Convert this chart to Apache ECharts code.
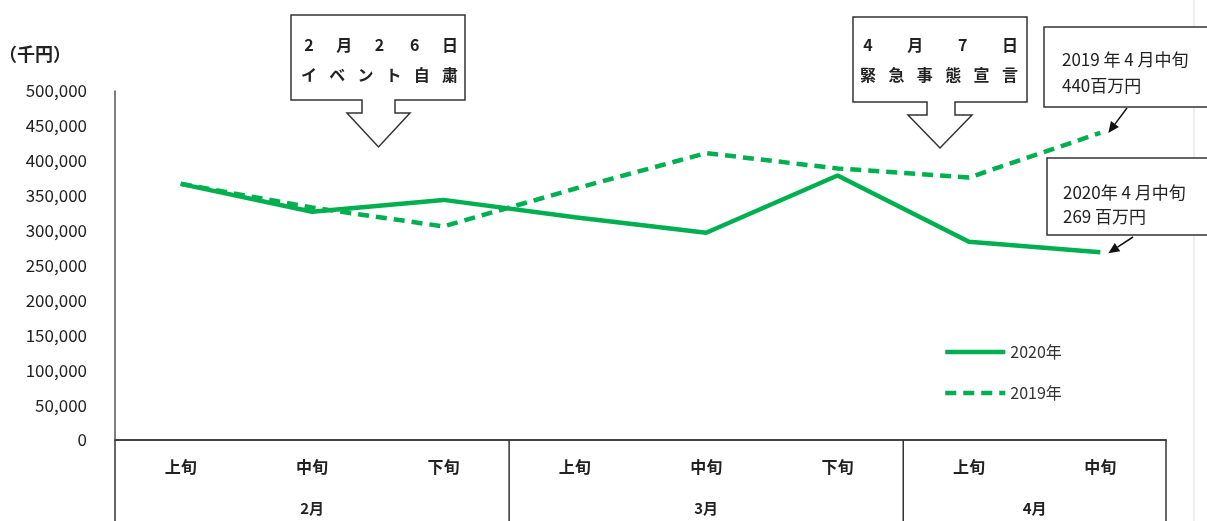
<!DOCTYPE html>
<html><head><meta charset="utf-8">
<script src="https://cdn.jsdelivr.net/npm/echarts@6/dist/echarts.min.js"></script>
<style>html,body{margin:0;padding:0;background:#fff}#c{width:1207px;height:521px}</style>
</head><body><div id="c"></div>
<script>
const categories = ['上旬','中旬','下旬','上旬','中旬','下旬','上旬','中旬'];
const months = ['2月','3月','4月'];
const monthSpans = [3,3,2];
const values2020 = [367000,327000,344000,319000,297000,379000,284000,269000];
const values2019 = [367000,333000,306000,360000,411000,389000,376000,440000];
const seriesNames = ['2020年','2019年'];
const yMax = 500000, yInterval = 50000;

const FONT = '"Noto Sans CJK JP", "Noto Sans", sans-serif';
const GREEN = '#00b050';
const chart = echarts.init(document.getElementById('c'));

chart.setOption({
  animation: false,
  backgroundColor: '#fff',
  textStyle: { fontFamily: FONT },
  grid: { left: 115, right: 41, top: 91, bottom: 81, containLabel: false, outerBoundsMode: 'none' },
  legend: {
    orient: 'vertical', left: 938, top: 339, itemWidth: 60, itemHeight: 14, itemGap: 25,
    data: seriesNames,
    lineStyle: { width: 4.5 },
    itemStyle: { opacity: 0 },
    textStyle: { fontSize: 16, color: '#333', fontFamily: FONT }
  },
  xAxis: {
    type: 'category', data: categories, boundaryGap: true,
    axisLine: { lineStyle: { color: '#444', width: 2 } },
    axisTick: { show: false },
    axisLabel: { fontSize: 16, color: '#222', margin: 19, fontWeight: 'bold', fontFamily: FONT }
  },
  yAxis: {
    type: 'value', min: 0, max: yMax, interval: yInterval,
    name: '（千円）', nameLocation: 'end', nameGap: 28,
    nameTextStyle: { fontSize: 18, color: '#222', fontWeight: 'bold', align: 'left', padding: [0, 0, 0, -116], fontFamily: FONT },
    axisLine: { show: true, lineStyle: { color: '#555', width: 1.5 } },
    axisTick: { show: false },
    splitLine: { show: false },
    axisLabel: { fontSize: 17, color: '#222', margin: 28, fontFamily: FONT,
      formatter: v => v.toLocaleString('en-US') }
  },
  series: [
    { name: seriesNames[0], type: 'line', data: values2020, symbol: 'none', z: 3,
      lineStyle: { color: GREEN, width: 4.5 }, itemStyle: { color: GREEN } },
    { name: seriesNames[1], type: 'line', data: values2019, symbol: 'none', z: 4,
      lineStyle: { color: GREEN, width: 4.5, type: [11, 7] }, itemStyle: { color: GREEN } }
  ]
});

function px(i, v) { return chart.convertToPixel({ xAxisIndex: 0, yAxisIndex: 0 }, [i, v]); }
const c0 = px(0, 0), c1 = px(1, 0);
const band = c1[0] - c0[0];
const bx = i => c0[0] - band / 2 + i * band;
const y0 = c0[1];

const g = [];
let idx = 0;
const bounds = [0];
monthSpans.forEach(s => { idx += s; bounds.push(idx); });
bounds.forEach(b => g.push({ type: 'line', shape: { x1: bx(b), y1: y0, x2: bx(b), y2: 521 },
  style: { stroke: '#333', lineWidth: 1.5 }, z: 10 }));
months.forEach((m, k) => {
  const cx = (bx(bounds[k]) + bx(bounds[k + 1])) / 2;
  g.push({ type: 'text', x: cx, y: 508, style: { text: m, fill: '#222',
    align: 'center', verticalAlign: 'middle', font: 'bold 15px ' + FONT }, z: 10 });
});
g.push({ type: 'line', shape: { x1: 1194, y1: 0, x2: 1194, y2: 521 }, style: { stroke: '#ddd', lineWidth: 1 }, z: 1 });

function spaced(chars, x0, x1, y) {
  const step = (x1 - x0) / (chars.length - 1);
  return chars.map((ch, k) => ({ type: 'text', x: x0 + k * step, y: y,
    style: { text: ch, font: 'bold 16px ' + FONT, fill: '#222', align: 'center', verticalAlign: 'middle' }, z: 21 }));
}
function callout(l, t, r, b, sl, sr, hl, hr, sy, tipY) {
  const tx = (hl + hr) / 2;
  return { type: 'polygon', shape: { points: [[l, t], [r, t], [r, b], [sr, b], [sr, sy], [hr, sy], [tx, tipY], [hl, sy], [sl, sy], [sl, b], [l, b]] },
    style: { fill: '#fff', stroke: '#333', lineWidth: 1.5 }, z: 20 };
}
g.push(callout(291, 15, 465, 100, 362, 395, 347, 410, 113, 147));
g.push(...spaced(['2', '月', '2', '6', '日'], 309, 450, 45));
g.push(...spaced(['イ', 'ベ', 'ン', 'ト', '自', '粛'], 309, 450, 75));
g.push(callout(853, 17, 1027, 102, 927, 955, 908, 972, 115, 148));
g.push(...spaced(['4', '月', '7', '日'], 868, 1010, 45));
g.push(...spaced(['緊', '急', '事', '態', '宣', '言'], 868, 1010, 75));

function box(x, y, w, h, lines, ly, tx) {
  g.push({ type: 'rect', shape: { x, y, width: w, height: h }, style: { fill: '#fff', stroke: '#333', lineWidth: 1.5 }, z: 20 });
  lines.forEach((t, k) => g.push({ type: 'text', x: tx, y: ly[k],
    style: { text: t, font: '17px ' + FONT, fill: '#222', align: 'left', verticalAlign: 'middle' }, z: 21 }));
}
box(1044, 27, 180, 80, ['2019 年 4 月中旬', '440百万円'], [60, 86], 1062);
box(1047, 158, 180, 77, ['2020年 4 月中旬', '269 百万円'], [193, 217], 1063);

function arrow(x1, y1, x2, y2) {
  const dx = x2 - x1, dy = y2 - y1, L = Math.hypot(dx, dy), ux = dx / L, uy = dy / L;
  const hl = 11, hw = 5;
  const bxp = x2 - ux * hl, byp = y2 - uy * hl;
  g.push({ type: 'line', shape: { x1, y1, x2: bxp, y2: byp }, style: { stroke: '#111', lineWidth: 1.5 }, z: 22 });
  g.push({ type: 'polygon', shape: { points: [[x2, y2], [bxp - uy * hw, byp + ux * hw], [bxp + uy * hw, byp - ux * hw]] },
    style: { fill: '#111' }, z: 22 });
}
const n = categories.length - 1;
const p19 = px(n, values2019[n]);
const p20 = px(n, values2020[n]);
arrow(1127, 108, p19[0] + 8, p19[1]);
arrow(1133, 237, p20[0] + 8, p20[1] + 1);

chart.setOption({ graphic: g });
</script></body></html>
